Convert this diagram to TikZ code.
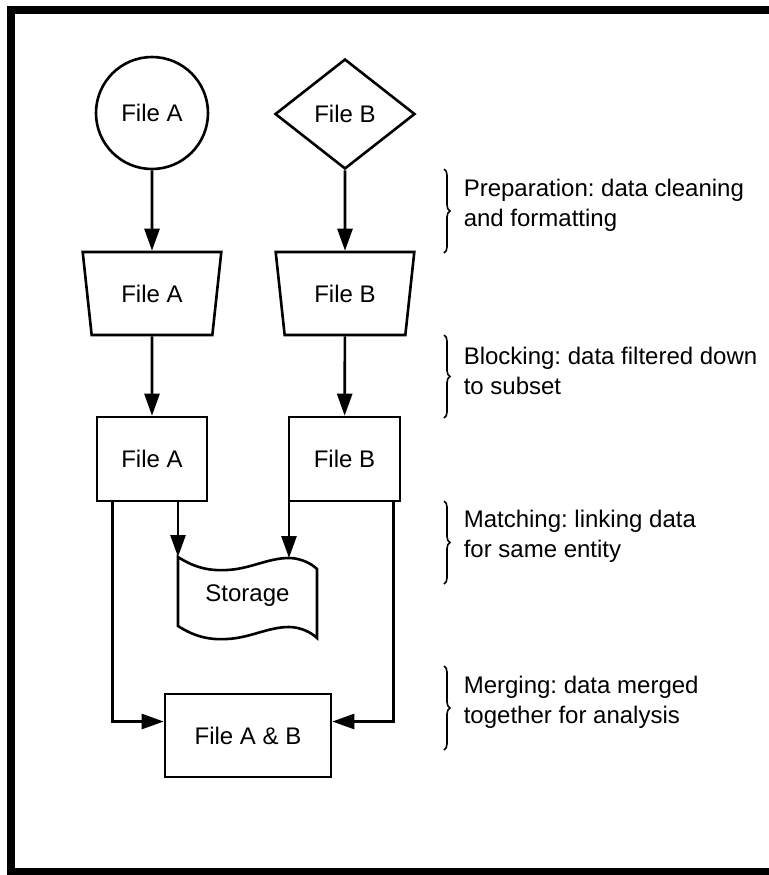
\documentclass[tikz,border=0pt]{standalone}
\usepackage{fontspec}
\setmainfont{Liberation Sans}
\frenchspacing
\usetikzlibrary{shapes.geometric, arrows.meta, decorations.pathreplacing, positioning}

\tikzset{
  box/.style={draw, line width=1.3pt, inner sep=0pt, font=\fontsize{12}{15}\selectfont},
  arr/.style={line width=1.3pt, -{Triangle[length=11pt,width=7.5pt]}},
  brc/.style={line width=0.8pt, decorate, decoration={brace, amplitude=3pt}},
  note/.style={font=\fontsize{12}{15}\selectfont, align=left, anchor=west, inner sep=0pt},
}

\begin{document}
\begin{tikzpicture}[x=0.5pt, y=-0.5pt]
  \useasboundingbox (0,0) rectangle (769,875);
  % Frame
  \draw[line width=4pt] (769,10) -- (10.5,10) -- (10.5,872) -- (769,872);
  % Sources
  \node[box, circle, minimum size=56pt] (fa0) at (152,113) {File A};
  \node[box, diamond, aspect=1.27, minimum width=70pt, minimum height=55pt] (fb0) at (345,114) {File B};
  % Preparation
  \node[box, trapezium, shape border rotate=180, trapezium stretches=true,
        trapezium left angle=75.5, trapezium right angle=75.5,
        minimum width=69.5pt, minimum height=41.5pt] (fa1) at (152,293.5) {File A};
  \node[box, trapezium, shape border rotate=180, trapezium stretches=true,
        trapezium left angle=75.5, trapezium right angle=75.5,
        minimum width=69.5pt, minimum height=41.5pt] (fb1) at (345,293.5) {File B};
  % Blocking
  \node[box, minimum width=55pt, minimum height=42pt] (fa2) at (152,459) {File A};
  \node[box, minimum width=55.5pt, minimum height=42pt] (fb2) at (344.5,459) {File B};
  % Storage
  \node[font=\fontsize{12}{15}\selectfont] (st) at (247.5,596) {Storage};
  \draw[line width=1.3pt] (178,557) coordinate (st-in1)
    .. controls (195,568) and (210,571) .. (227,570)
    .. controls (250,569) and (268,558) .. (289,558) coordinate (st-in2)
    .. controls (301,558) and (312,564) .. (317,569) -- (317,638)
    .. controls (312,633) and (301,627) .. (289,627)
    .. controls (268,627) and (250,638) .. (227,639)
    .. controls (210,640) and (195,637) .. (178,626) -- cycle;
  % Merging
  \node[box, minimum width=83pt, minimum height=41.5pt] (fm) at (248,735.5) {File A \& B};
  % Connectors
  \draw[arr] (fa0) -- (fa1);
  \draw[arr] (fb0) -- (fb1);
  \draw[arr] (fa1) -- (fa2);
  \draw[arr] (fb1) -- (fb2);
  \draw[arr] (fa2.south -| st-in1) -- (st-in1);
  \draw[arr] (fb2.south -| st-in2) -- (st-in2);
  \draw[arr] ([xshift=8.5pt]fa2.south west) |- ([yshift=7pt]fm.west);
  \draw[arr] ([xshift=-4pt]fb2.south east) |- ([yshift=7pt]fm.east);
  % Stages
  \foreach \ya/\yb/\txt [count=\i] in {169/253/{Preparation: data cleaning\\and formatting},
      335/418/{Blocking: data filtered down\\to subset},
      501/584/{Matching: linking data\\for same entity},
      666/750/{Merging: data merged\\together for analysis}}
    \draw[brc] (444,\ya) -- (444,\yb) node[note, midway, xshift=9.5pt, yshift=3pt] (note\i) {\txt};
\end{tikzpicture}
\end{document}
